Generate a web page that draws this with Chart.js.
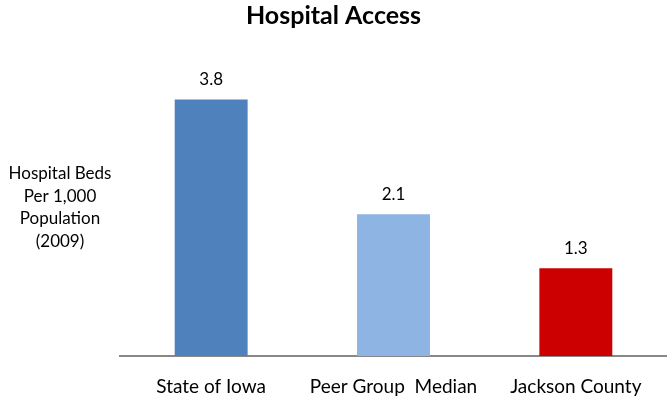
<!DOCTYPE html>
<html>
<head>
<meta charset="utf-8">
<script src="https://cdn.jsdelivr.net/npm/chart.js@4/dist/chart.umd.min.js"></script>
<style>
  html, body { margin: 0; padding: 0; background: #fff; }
  #wrap { width: 667px; height: 398px; }
</style>
</head>
<body>
<div id="wrap"><canvas id="myChart"></canvas></div>
<script>
  const categories = ['State of Iowa', 'Peer Group  Median', 'Jackson County']
  const bedsPer1000 = [3.8, 2.1, 1.3]
  const barColors = ['#4F81BD', '#8EB4E3', '#CC0000']
  const yTitleLines = ['Hospital Beds', 'Per 1,000', 'Population', '(2009)']

  const FONT = 'Lato, "Open Sans", sans-serif'

  // value labels above each bar, plus the horizontal axis caption on the left
  const extras = {
    id: 'extras',
    afterDatasetsDraw(chart) {
      const { ctx } = chart
      const meta = chart.getDatasetMeta(0)
      ctx.save()
      ctx.fillStyle = '#000'
      ctx.textAlign = 'center'
      ctx.textBaseline = 'middle'
      ctx.font = '17px ' + FONT
      meta.data.forEach((bar, i) => {
        ctx.fillText(bedsPer1000[i].toFixed(1), bar.x, bar.y - 20)
      })
      yTitleLines.forEach((line, i) => {
        ctx.fillText(line, 60, 174 + i * 22.5)
      })
      ctx.restore()
    }
  }

  new Chart(document.getElementById('myChart'), {
    type: 'bar',
    data: {
      labels: categories,
      datasets: [{
        data: bedsPer1000,
        backgroundColor: barColors,
        categoryPercentage: 1,
        barPercentage: 0.4
      }]
    },
    options: {
      responsive: true,
      maintainAspectRatio: false,
      animation: false,
      layout: { padding: 0 },
      scales: {
        x: {
          grid: { display: false, drawTicks: false },
          border: { display: true, color: '#888888', width: 2 },
          ticks: { color: '#000', font: { family: FONT, size: 19 }, padding: 19 },
          afterFit(axis) { axis.height = 42 }
        },
        y: {
          min: 0,
          max: 4,
          grid: { display: false, drawTicks: false },
          border: { display: false },
          ticks: { display: false },
          afterFit(axis) { axis.width = 120 }
        }
      },
      plugins: {
        legend: { display: false },
        tooltip: { enabled: false },
        title: {
          display: true,
          text: 'Hospital Access',
          color: '#000',
          font: { family: FONT, size: 25, weight: 'bold' },
          padding: { top: 1, bottom: 55 }
        }
      }
    },
    plugins: [extras]
  })
</script>
</body>
</html>
